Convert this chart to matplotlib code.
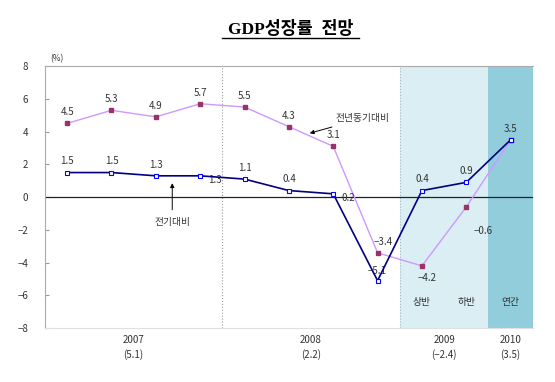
import numpy as np
import matplotlib
matplotlib.use("Agg")
import matplotlib.pyplot as plt

plt.rcParams['font.family'] = ['Noto Sans CJK KR', 'DejaVu Sans']

# quarterly 2007-2008, half-year 2009, annual 2010
qoq = [1.5, 1.5, 1.3, 1.3, 1.1, 0.4, 0.2, -5.1, 0.4, 0.9, 3.5]
yoy = [4.5, 5.3, 4.9, 5.7, 5.5, 4.3, 3.1, -3.4, -4.2, -0.6, 3.5]
year_labels = ["2007\n(5.1)", "2008\n(2.2)", "2009\n(\u22122.4)", "2010\n(3.5)"]
year_pos = [1.5, 5.5, 8.5, 10]
sub_labels = ["상반", "하반", "연간"]
yticks = [-8, -6, -4, -2, 0, 2, 4, 6, 8]

x = np.arange(len(qoq))

fig = plt.figure(figsize=(5.55, 3.82), dpi=100)
ax = fig.add_axes([0.081, 0.141, 0.879, 0.686])

ax.axvspan(7.5, 9.5, color='#DAEEF3', zorder=0, lw=0)
ax.axvspan(9.5, 10.5, color='#92CDDC', zorder=0, lw=0)
ax.axvline(3.5, color='#999999', ls=':', lw=0.8, zorder=1)
ax.axvline(7.5, color='#AAB8C0', ls=':', lw=0.8, zorder=1)
ax.axhline(0, color='#222222', lw=0.9, zorder=2)

ax.plot(x, yoy, color='#CC99FF', lw=1.0, marker='s', ms=3.2,
        mfc='#993366', mec='#993366', zorder=3)
ax.plot(x, qoq, color='#000080', lw=1.2, marker='s', ms=3.5,
        mfc='white', mec='#0000FF', mew=0.8, zorder=4)

lab = dict(fontsize=7, color='#333333', ha='center')
# yoy labels
yoy_off = [(0, 8), (0, 8), (0, 8), (0, 8), (0, 8), (0, 8), (0, 8),
           (4, 8), (4, -9), (12, -17), (0, 0)]
for xi, v, (dx, dy) in zip(x, yoy, yoy_off):
    if xi == 10:
        continue
    ax.annotate(f"{v:.1f}".replace('-', '\u2212'), (xi, v), xytext=(dx, dy),
                textcoords='offset points', va='center', **lab)
# qoq labels
qoq_off = [(0, 8), (0, 8), (0, 8), (11, -3), (0, 8), (0, 8), (11, -3),
           (0, 7), (0, 8), (0, 8), (0, 8)]
for xi, v, (dx, dy) in zip(x, qoq, qoq_off):
    ax.annotate(f"{v:.1f}".replace('-', '\u2212'), (xi, v), xytext=(dx, dy),
                textcoords='offset points', va='center', **lab)

ax.annotate("전년동기대비", xy=(5.47, 3.9), xytext=(6.05, 4.8),
            fontsize=7, color='#333333', va='center', ha='left',
            arrowprops=dict(arrowstyle='-|>', color='black', lw=0.7,
                            mutation_scale=6, shrinkA=2, shrinkB=0))
ax.annotate("전기대비", xy=(2.37, 0.85), xytext=(2.37, -1.5),
            fontsize=7, color='#333333', va='center', ha='center',
            arrowprops=dict(arrowstyle='-|>', color='black', lw=0.7,
                            mutation_scale=6, shrinkA=3, shrinkB=0))

for xi, s in zip([8, 9, 10], sub_labels):
    ax.text(xi, -6.4, s, fontsize=7, color='#333333', ha='center', va='center')

ax.set_xlim(-0.5, 10.5)
ax.set_ylim(-8, 8)
ax.set_yticks(yticks)
ax.set_yticklabels([str(t).replace('-', '\u2212') for t in yticks],
                   fontsize=7, color='#333333')
ax.tick_params(axis='y', direction='in', length=3, color='#999999', pad=12)
ax.set_xticks([])
for xp, s in zip(year_pos, year_labels):
    ax.text(xp, -8.4, s, fontsize=7, color='#333333', ha='center', va='top',
            linespacing=1.5)

for side in ['top', 'left']:
    ax.spines[side].set_color('#AAAAAA')
ax.spines['bottom'].set_color('#E0E0E0')
ax.spines['right'].set_visible(False)

fig.text(0.09, 0.84, "(%)", fontsize=6, color='#333333')
fig.text(0.523, 0.922, "GDP성장률  전망", fontsize=12.5, fontweight='bold',
         ha='center', va='center', color='black',
         family=['Liberation Serif', 'Noto Sans CJK KR'])
fig.add_artist(plt.Line2D([0.40, 0.647], [0.9, 0.9], color='black',
                          lw=1.0, transform=fig.transFigure))

fig.savefig("out.png", dpi=100)
